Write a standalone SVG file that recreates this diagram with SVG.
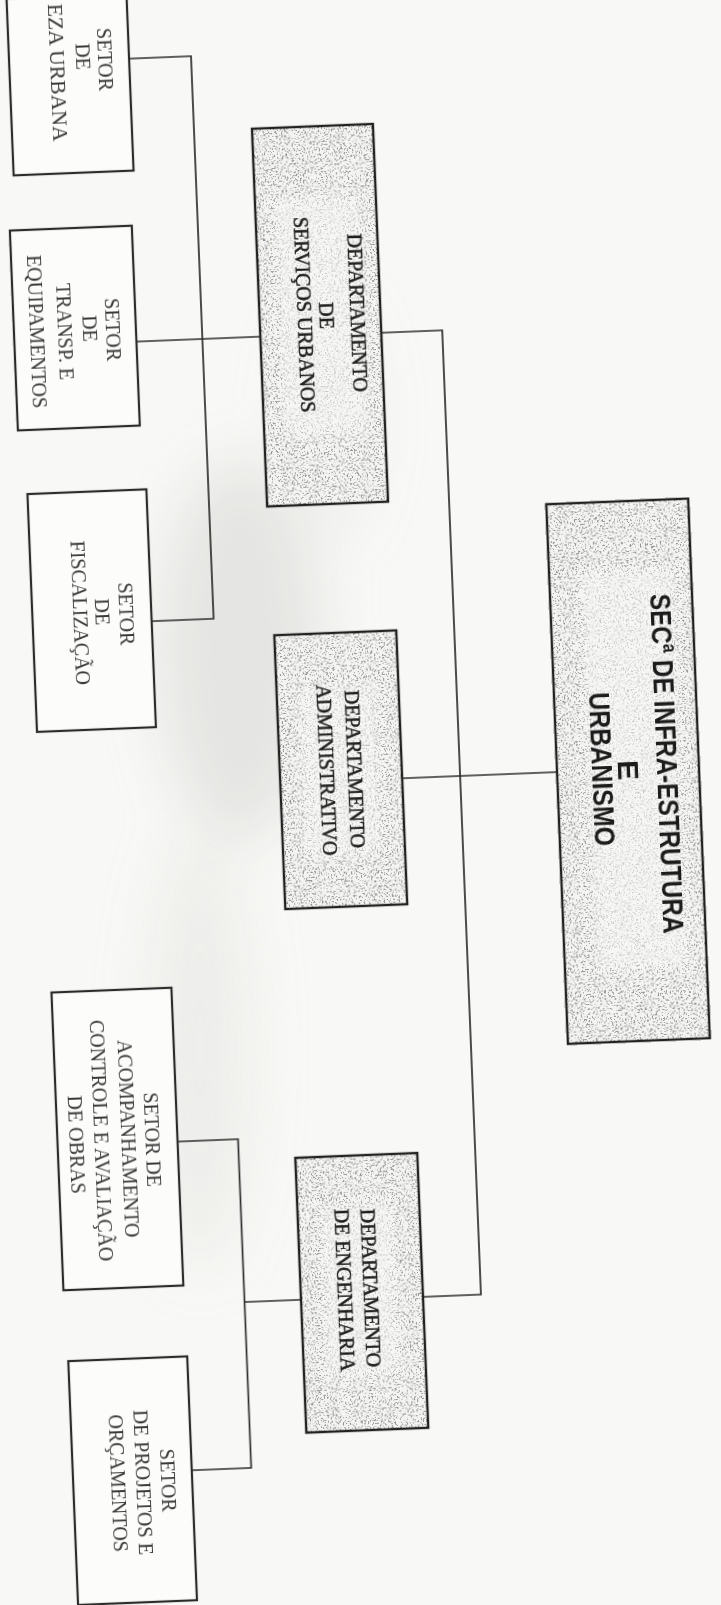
<svg xmlns="http://www.w3.org/2000/svg" width="721" height="1605" viewBox="0 0 721 1605">
<defs>
<style>
.bx{fill:#fcfcfb;stroke:#2b2b2b;stroke-width:2.2}
.dbg{fill:#f4f4f2}
.spk{fill:#000;filter:url(#speck)}
.clr{fill:#f8f8f6;opacity:.55;filter:url(#soft)}
.dbd{fill:none;stroke:#222;stroke-width:2.4}
.cn{fill:none;stroke:#2e2e2e;stroke-width:1.7}
.s{font-family:"Liberation Serif","Times New Roman",serif;font-size:20px;fill:#3a3a3a;text-anchor:middle;dominant-baseline:central}
.se{font-family:"Liberation Serif","Times New Roman",serif;font-size:20px;fill:#3a3a3a;text-anchor:end;dominant-baseline:central}
.d{font-family:"Liberation Serif","Times New Roman",serif;font-size:20px;fill:#1f1f1f;stroke:#1f1f1f;stroke-width:0.5;text-anchor:middle;dominant-baseline:central}
.sec{font-family:"Liberation Sans Narrow","Liberation Sans",Arial,sans-serif;font-weight:bold;font-size:30px;fill:#1c1c1c;text-anchor:middle;dominant-baseline:central}
</style>
<filter id="speck" x="0" y="0" width="100%" height="100%">
<feTurbulence type="fractalNoise" baseFrequency="0.6" numOctaves="2" seed="7" result="n"/>
<feColorMatrix in="n" type="matrix" values="0 0 0 0 0.3  0 0 0 0 0.3  0 0 0 0 0.3  11 0 0 0 -6.2" result="dots"/>
<feComposite in="dots" in2="SourceGraphic" operator="in"/>
</filter>
<filter id="soft" x="-20%" y="-20%" width="140%" height="140%"><feGaussianBlur stdDeviation="6"/></filter>
<filter id="smudge" x="-50%" y="-50%" width="200%" height="200%"><feGaussianBlur stdDeviation="28"/></filter>
</defs>
<rect width="721" height="1605" fill="#f8f8f6"/>
<g filter="url(#smudge)" fill="#cfcfcd">
<ellipse cx="240" cy="650" rx="80" ry="190" opacity=".45"/>
<ellipse cx="200" cy="1050" rx="50" ry="220" opacity=".25"/>
<ellipse cx="330" cy="420" rx="40" ry="120" opacity=".2"/>
</g>
<g transform="rotate(-2.3 360 800)">
<g id="connectors">
<path class="cn" d="M158.6 50 H221 V613 H158.6"/>
<path class="cn" d="M155 333 H279"/>
<path class="cn" d="M400 334 H461 V1299 H403"/>
<path class="cn" d="M403 780 H558"/>
<path class="cn" d="M164 1134 H224.5 V1463 H165"/>
<path class="cn" d="M224.5 1297 H281"/>
</g>
<g id="setor-limpeza">
<rect class="bx" x="39" y="-15" width="120" height="177"/>
<text class="s" transform="translate(134.6 49.8) rotate(90)">SETOR</text>
<text class="s" transform="translate(112.7 46) rotate(90)">DE</text>
<text class="se" transform="translate(87 130) rotate(90)" textLength="138" lengthAdjust="spacingAndGlyphs">EZA URBANA</text>
</g>
<g id="setor-transp">
<rect class="bx" x="33" y="217" width="122" height="200"/>
<text class="s" transform="translate(131.8 320) rotate(90)">SETOR</text>
<text class="s" transform="translate(108.8 318) rotate(90)">DE</text>
<text class="s" transform="translate(83.7 320) rotate(90)">TRANSP. E</text>
<text class="s" transform="translate(55.7 319) rotate(90)">EQUIPAMENTOS</text>
</g>
<g id="setor-fiscalizacao">
<rect class="bx" x="40" y="481" width="119" height="238"/>
<text class="s" transform="translate(134.4 604.7) rotate(90)">SETOR</text>
<text class="s" transform="translate(109.5 601.7) rotate(90)">DE</text>
<text class="s" transform="translate(87.5 601.8) rotate(90)">FISCALIZAÇÃO</text>
</g>
<g id="dept-servicos">
<rect class="dbg" x="279" y="125" width="121" height="378"/>
<rect class="spk" x="279" y="125" width="121" height="378"/>
<rect class="clr" x="300" y="195" width="84" height="240"/>
<rect class="dbd" x="279" y="125" width="121" height="378"/>
<text class="d" transform="translate(376.5 313) rotate(90)">DEPARTAMENTO</text>
<text class="d" transform="translate(346.4 314.7) rotate(90)">DE</text>
<text class="d" transform="translate(324.4 312.8) rotate(90)">SERVIÇOS URBANOS</text>
</g>
<g id="dept-administrativo">
<rect class="dbg" x="281" y="632" width="122" height="274"/>
<rect class="spk" x="281" y="632" width="122" height="274"/>
<rect class="clr" x="305" y="685" width="72" height="170"/>
<rect class="dbd" x="281" y="632" width="122" height="274"/>
<text class="d" transform="translate(356.2 768.8) rotate(90)">DEPARTAMENTO</text>
<text class="d" transform="translate(328.2 768.7) rotate(90)">ADMINISTRATIVO</text>
</g>
<g id="sec-infra">
<rect class="dbg" x="558" y="512" width="142" height="540"/>
<rect class="spk" x="558" y="512" width="142" height="540"/>
<rect class="clr" x="590" y="580" width="92" height="400"/>
<rect class="dbd" x="558" y="512" width="142" height="540"/>
<text class="sec" transform="translate(668.6 776) rotate(90)" textLength="340" lengthAdjust="spacingAndGlyphs">SECª DE INFRA-ESTRUTURA</text>
<text class="sec" transform="translate(629.1 781) rotate(90)">E</text>
<text class="sec" transform="translate(603.2 779) rotate(90)" textLength="154" lengthAdjust="spacingAndGlyphs">URBANISMO</text>
</g>
<g id="setor-acompanhamento">
<rect class="bx" x="44" y="980" width="120" height="298"/>
<text class="s" transform="translate(139.4 1131) rotate(90)">SETOR DE</text>
<text class="s" transform="translate(114.5 1129) rotate(90)">ACOMPANHAMENTO</text>
<text class="s" transform="translate(88.4 1130) rotate(90)">CONTROLE E AVALIAÇÃO</text>
<text class="s" transform="translate(63.2 1133) rotate(90)">DE OBRAS</text>
</g>
<g id="dept-engenharia">
<rect class="dbg" x="281" y="1155" width="122" height="275"/>
<rect class="spk" x="281" y="1155" width="122" height="275"/>
<rect class="clr" x="305" y="1205" width="72" height="170"/>
<rect class="dbd" x="281" y="1155" width="122" height="275"/>
<text class="d" transform="translate(350.5 1288) rotate(90)">DEPARTAMENTO</text>
<text class="d" transform="translate(325.4 1289) rotate(90)">DE ENGENHARIA</text>
</g>
<g id="setor-projetos">
<rect class="bx" x="46" y="1349" width="119" height="244"/>
<text class="s" transform="translate(140.8 1472) rotate(90)">SETOR</text>
<text class="s" transform="translate(115.7 1473) rotate(90)">DE PROJETOS E</text>
<text class="s" transform="translate(90.7 1473) rotate(90)">ORÇAMENTOS</text>
</g>
</g>
</svg>
